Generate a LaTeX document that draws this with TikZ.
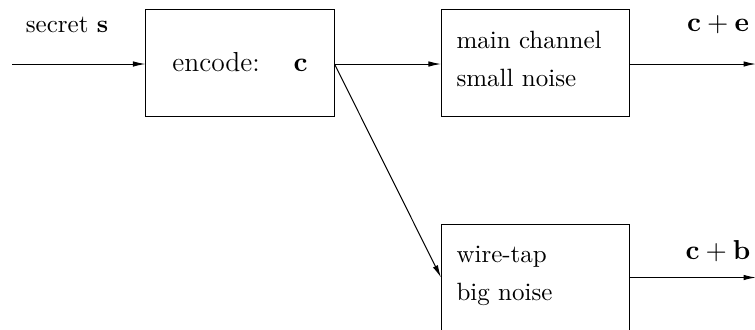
\documentclass[tikz,border=0pt]{standalone}
\usepackage{amsmath}
\usepackage{amssymb}
\usetikzlibrary{arrows.meta}
\tikzstyle{block}=[draw, inner sep=0pt, minimum width=75.2pt, minimum height=42.8pt]
\tikzstyle{chanbox}=[block, text width=63.2pt, inner xsep=6pt, align=left, font=\fontsize{10}{15.2}\selectfont]
\tikzstyle{flow}=[-{Latex[length=5pt, width=2.2pt]}]

\begin{document}
\begin{tikzpicture}[x=0.4pt, y=-0.4pt]
        \useasboundingbox (0, 0) rectangle (755, 329);
        \coordinate (In) at (12, 64) {};
        \coordinate (OutE) at (756, 64) {};
        \coordinate (OutB) at (756, 277.5) {};
        \node[block, font=\fontsize{11}{13}\selectfont] (Enc) at (240, 62.5) {encode:\hspace{13.5pt}$\mathbf{c}$\hspace{4pt}};
        \node[chanbox] (Main) at (535.5, 62.5) {main channel\\small noise\rule[-3pt]{0pt}{0pt}};
        \node[chanbox] (Tap) at (535.5, 277.5) {wire-tap\\big noise\rule[-3pt]{0pt}{0pt}};
        \node (S) at (67, 25) {secret $\mathbf{s}$};
        \node[font=\fontsize{11}{13}\selectfont] (E) at (718, 25) {$\mathbf{c}+\mathbf{e}$};
        \node[font=\fontsize{11}{13}\selectfont] (B) at (718, 251) {$\mathbf{c}+\mathbf{b}$};
        \draw[flow] (In) -- (Enc.west |- In);
        \draw[flow] (Enc.east |- In) -- (Main.west |- In);
        \draw[flow] (Enc.east |- In) -- (Tap.west);
        \draw[flow] (Main.east |- In) -- (OutE);
        \draw[flow] (Tap.east) -- (OutB);
    \end{tikzpicture}
\end{document}
